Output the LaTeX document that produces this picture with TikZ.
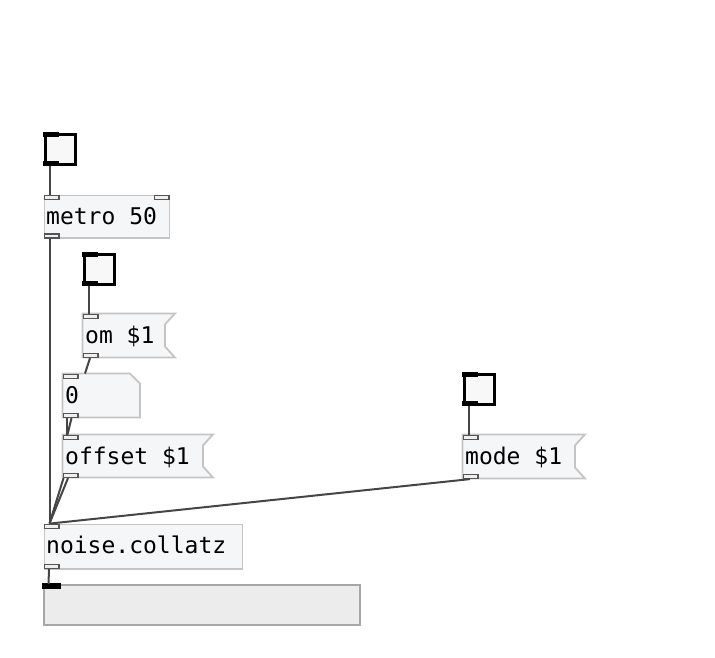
\documentclass[tikz,border=0pt]{standalone}
\usepackage{fontspec}
\newfontfamily\pdmono{DejaVu Sans Mono}
\usetikzlibrary{calc}
\definecolor{boxfill}{HTML}{F5F6F8}
\definecolor{boxborder}{HTML}{C4C4C4}
\definecolor{iodraw}{HTML}{555555}
\definecolor{iofill}{HTML}{EFEFEF}
\definecolor{wirecol}{HTML}{454545}
\definecolor{togfill}{HTML}{F8F8F8}
\definecolor{barfill}{HTML}{ECECEC}
\definecolor{barborder}{HTML}{A6A6A6}
\begin{document}
\begin{tikzpicture}[x=1pt,y=-1pt,
  objbox/.style n args={2}{rectangle, draw=boxborder, fill=boxfill, line width=1.8pt, minimum width=#1, minimum height=#2, inner sep=0pt, anchor=north west},
  area/.style n args={2}{rectangle, draw=none, minimum width=#1, minimum height=#2, inner sep=0pt, anchor=north west},
  outline/.style={draw=boxborder, fill=boxfill, line width=1.8pt, line join=miter},
  iolet/.style={rectangle, draw=iodraw, fill=iofill, line width=1.6pt, minimum width=14.5pt, minimum height=4pt, inner sep=0pt, anchor=north west},
  togbox/.style={rectangle, draw=black, fill=togfill, line width=2.6pt, minimum width=30pt, minimum height=30pt, inner sep=0pt, anchor=north west},
  togbar/.style={rectangle, fill=black, minimum width=16pt, minimum height=5pt, inner sep=0pt, anchor=north west},
  lbl/.style={font=\pdmono\fontsize{23}{26}\selectfont, inner sep=0pt, anchor=base west, text=black},
  wire/.style={draw=wirecol, line width=2pt},
  barbox/.style={rectangle, draw=barborder, fill=barfill, line width=2.2pt, minimum width=316pt, minimum height=40pt, inner sep=0pt, anchor=north west}
]
\useasboundingbox (0,0) rectangle (715,657);

% toggles
\node[togbox] (tog1) at (44,133) {};
\node[togbar] (tb1) at (42.7,131.7) {};
\node[togbar] (bb1) at (42.7,160.3) {};
\node[togbox] (tog2) at (83,253) {};
\node[togbar] (tb2) at (81.7,251.7) {};
\node[togbar] (bb2) at (81.7,280.3) {};
\node[togbox] (tog3) at (463,373) {};
\node[togbar] (tb3) at (461.7,371.7) {};
\node[togbar] (bb3) at (461.7,400.3) {};

% metro
\node[objbox={125pt}{42.5pt}] (metro) at (43.5,194.5) {};
\node[iolet] (metroIn) at (43.5,194.5) {};
\node[iolet] (metroIn2) at (153.5,194.5) {};
\node[iolet] (metroOut) at (43.5,233) {};
\node[lbl] (metroT) at (46,224) {metro 50};

% om $1
\node[area={92pt}{43.5pt}] (om) at (82.5,313.5) {};
\draw[outline] (om.north west) -- (om.north east) -- ++(-10,11) -- ($(om.south east)+(-10,-11)$) -- (om.south east) -- (om.south west) -- cycle;
\node[iolet] (omIn) at (82.5,313.5) {};
\node[iolet] (omOut) at (82.5,352.5) {};
\node[lbl] (omT) at (85,343) {om \$1};

% number box
\node[area={77pt}{43.5pt}] (num) at (62.5,373.5) {};
\draw[outline] (num.north west) -- ($(num.north east)+(-10,0)$) -- ($(num.north east)+(0,10)$) -- (num.south east) -- (num.south west) -- cycle;
\node[iolet] (numIn) at (62.5,373.5) {};
\node[iolet] (numOut) at (62.5,412.5) {};
\node[lbl] (numT) at (65,403) {0};

% offset $1
\node[area={150pt}{42.5pt}] (off) at (62.5,434.5) {};
\draw[outline] (off.north west) -- (off.north east) -- ++(-10,11) -- ($(off.south east)+(-10,-11)$) -- (off.south east) -- (off.south west) -- cycle;
\node[iolet] (offIn) at (62.5,434.5) {};
\node[iolet] (offOut) at (62.5,472.5) {};
\node[lbl] (offT) at (65,464) {offset \$1};

% mode $1
\node[area={122pt}{43.5pt}] (mode) at (462.5,434.5) {};
\draw[outline] (mode.north west) -- (mode.north east) -- ++(-10,11) -- ($(mode.south east)+(-10,-11)$) -- (mode.south east) -- (mode.south west) -- cycle;
\node[iolet] (modeIn) at (462.5,434.5) {};
\node[iolet] (modeOut) at (462.5,473.5) {};
\node[lbl] (modeT) at (465,464) {mode \$1};

% noise.collatz
\node[objbox={198pt}{44.5pt}] (noise) at (43.5,523.5) {};
\node[iolet] (noiseIn) at (43.5,523.5) {};
\node[iolet] (noiseOut) at (43.5,563.5) {};
\node[lbl] (noiseT) at (46,553) {noise.collatz};

% bar
\node[barbox] (bar) at (43,584) {};
\node[togbar, minimum width=18.5pt, minimum height=5.5pt] (barmark) at (42,583) {};

% connections
\draw[wire] ($(bb1.south west)+(6.8,0)$) -- ($(metroIn.north west)+(6,0)$);
\draw[wire] ($(metroOut.south west)+(6,0)$) -- ($(noiseIn.north west)+(6,0)$);
\draw[wire] ($(bb2.south west)+(7.3,0)$) -- ($(omIn.north west)+(6.5,0)$);
\draw[wire] ($(omOut.south west)+(7.5,0)$) -- ($(num.north west)+(22.5,0)$);
\draw[wire] ($(numOut.south west)+(4.5,0)$) -- ($(offIn.north west)+(4.5,0)$);
\draw[wire] ($(numOut.south west)+(9,0)$) -- ($(offIn.north west)+(5,0)$);
\draw[wire] ($(offOut.south west)+(1,0)$) -- ($(noiseIn.north west)+(6,0)$);
\draw[wire] ($(offOut.south west)+(5.5,0)$) -- ($(noiseIn.north west)+(6,0)$);
\draw[wire] ($(modeOut.south west)+(7.5,0)$) -- ($(noiseIn.north west)+(7,0)$);
\draw[wire] ($(bb3.south west)+(7.6,0)$) -- ($(modeIn.north west)+(6.8,0)$);
\draw[wire] ($(noiseOut.south west)+(5.5,0)$) -- ($(bar.north west)+(5.5,0)$);
\end{tikzpicture}
\end{document}
